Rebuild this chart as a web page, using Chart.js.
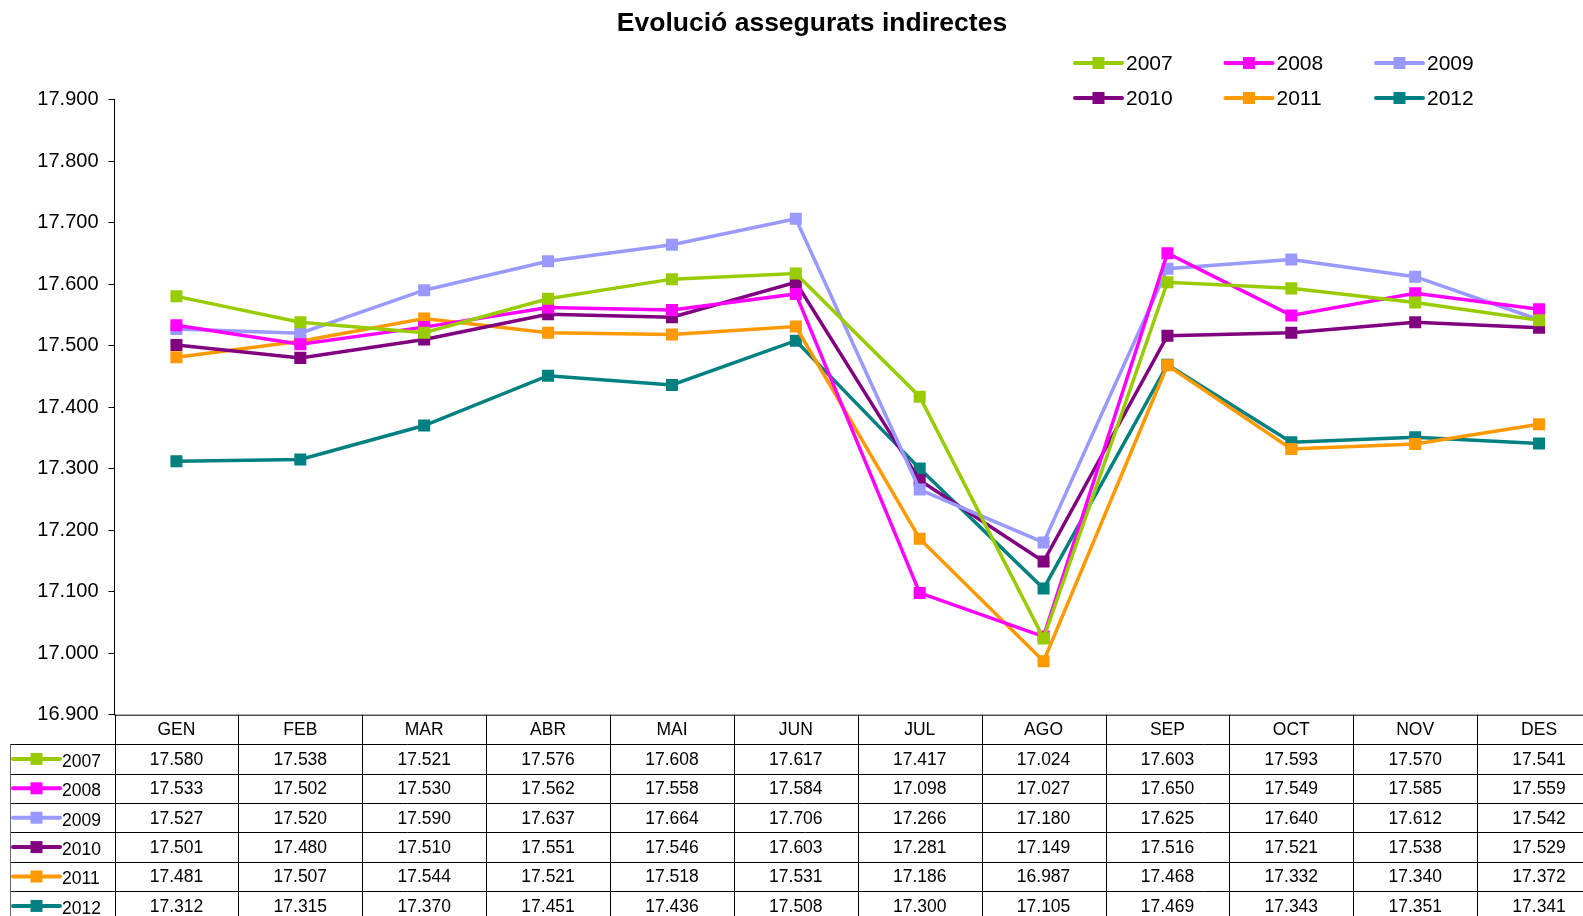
<!DOCTYPE html>
<html>
<head>
<meta charset="utf-8">
<title>Evolució assegurats indirectes</title>
<script src="https://cdn.jsdelivr.net/npm/chart.js@4"></script>
<style>
  html, body { margin: 0; padding: 0; background: #fff; overflow: hidden; }
  #wrap { width: 1583px; height: 916px; position: relative; overflow: hidden; }
  #assegChart { display: block; }
</style>
</head>
<body>
<div id="wrap"><canvas id="assegChart" width="1620" height="916"></canvas></div>
<script>
// dades
const months = ["GEN", "FEB", "MAR", "ABR", "MAI", "JUN", "JUL", "AGO", "SEP", "OCT", "NOV", "DES"];
const years = ["2007", "2008", "2009", "2010", "2011", "2012"];
const colors = ["#99CC00", "#FF00FF", "#9999FF", "#800080", "#FF9900", "#008080"];

const s2007 = [17580, 17538, 17521, 17576, 17608, 17617, 17417, 17024, 17603, 17593, 17570, 17541];
const s2008 = [17533, 17502, 17530, 17562, 17558, 17584, 17098, 17027, 17650, 17549, 17585, 17559];
const s2009 = [17527, 17520, 17590, 17637, 17664, 17706, 17266, 17180, 17625, 17640, 17612, 17542];
const s2010 = [17501, 17480, 17510, 17551, 17546, 17603, 17281, 17149, 17516, 17521, 17538, 17529];
const s2011 = [17481, 17507, 17544, 17521, 17518, 17531, 17186, 16987, 17468, 17332, 17340, 17372];
const s2012 = [17312, 17315, 17370, 17451, 17436, 17508, 17300, 17105, 17469, 17343, 17351, 17341];
const series = [s2007, s2008, s2009, s2010, s2011, s2012];

const yMin = 16900;
const yMax = 17900;
const yStep = 100;

const FONT = "'Liberation Sans', Arial, sans-serif";

// 17900 -> "17.900"
function fmt(v) {
  return String(Math.round(v)).replace(/\B(?=(\d{3})+(?!\d))/g, ".");
}

function drawSample(ctx, x1, x2, y, color) {
  ctx.save();
  ctx.strokeStyle = color;
  ctx.lineWidth = 4;
  ctx.lineCap = "round";
  ctx.beginPath();
  ctx.moveTo(x1, y);
  ctx.lineTo(x2, y);
  ctx.stroke();
  ctx.fillStyle = color;
  const mx = (x1 + x2) / 2;
  ctx.fillRect(mx - 6, y - 6, 12, 12);
  ctx.restore();
}

// titol, llegenda i taula de dades
const extrasPlugin = {
  id: "extras",
  afterDraw(chart) {
    const ctx = chart.ctx;
    const area = chart.chartArea;
    ctx.save();

    // titol
    ctx.fillStyle = "#000";
    ctx.font = "bold 26.5px " + FONT;
    ctx.textAlign = "center";
    ctx.textBaseline = "middle";
    ctx.fillText("Evolució assegurats indirectes", 812, 24);

    // llegenda (2 files x 3 columnes)
    ctx.font = "21px " + FONT;
    ctx.textAlign = "left";
    years.forEach((yr, i) => {
      const col = i % 3, row = Math.floor(i / 3);
      const x = 1075 + col * 150.5;
      const y = 63 + row * 35;
      drawSample(ctx, x, x + 47, y, colors[i]);
      ctx.fillStyle = "#000";
      ctx.fillText(yr, x + 51, y + 1);
    });

    // taula
    const top = area.bottom;
    const left = area.left;
    const right = area.right;
    const colW = (right - left) / months.length;
    const headH = 29.5;
    const rowH = 29.4;
    const legLeft = 10;
    const bottom = top + headH + rowH * years.length;

    ctx.lineWidth = 1;
    ctx.strokeStyle = "#000";
    ctx.beginPath();
    ctx.moveTo(left, top + 0.5);
    ctx.lineTo(right, top + 0.5);
    for (let r = 0; r <= years.length; r++) {
      const y = Math.round(top + headH + r * rowH) + 0.5;
      ctx.moveTo(legLeft, y);
      ctx.lineTo(right, y);
    }
    for (let c = 0; c <= months.length; c++) {
      const x = Math.round(left + c * colW) + 0.5;
      ctx.moveTo(x, top);
      ctx.lineTo(x, bottom);
    }
    ctx.stroke();
    ctx.strokeStyle = "#666";
    ctx.beginPath();
    ctx.moveTo(legLeft + 0.5, top + headH);
    ctx.lineTo(legLeft + 0.5, bottom);
    ctx.stroke();

    ctx.fillStyle = "#000";
    ctx.font = "17.5px " + FONT;
    ctx.textAlign = "center";
    ctx.textBaseline = "middle";
    months.forEach((m, c) => {
      ctx.fillText(m, left + (c + 0.5) * colW, top + headH / 2 + 1);
    });
    series.forEach((vals, r) => {
      const cy = top + headH + (r + 0.5) * rowH;
      vals.forEach((v, c) => {
        ctx.fillText(fmt(v), left + (c + 0.5) * colW, cy + 1);
      });
    });

    // mostres de la llegenda a la taula
    ctx.textAlign = "left";
    series.forEach((vals, r) => {
      const cy = top + headH + (r + 0.5) * rowH;
      drawSample(ctx, 13, 60, cy, colors[r]);
      ctx.fillStyle = "#000";
      ctx.fillText(years[r], 62, cy + 3);
    });

    ctx.restore();
  }
};

const ctx1 = document.getElementById("assegChart").getContext("2d");
const assegChart = new Chart(ctx1, {
  type: "line",
  data: {
    labels: months,
    datasets: years.map((yr, i) => ({
      label: yr,
      data: series[i],
      borderColor: colors[i],
      backgroundColor: colors[i],
      borderWidth: 3.5,
      pointStyle: "rect",
      pointRadius: 8.5,
      pointBorderWidth: 0,
      pointBackgroundColor: colors[i],
      tension: 0,
      fill: false,
    })),
  },
  options: {
    responsive: false,
    maintainAspectRatio: false,
    animation: false,
    layout: { padding: { top: 99.5, bottom: 201.3, left: 0, right: 19 } },
    plugins: {
      legend: { display: false },
      title: { display: false },
      tooltip: { enabled: false },
    },
    scales: {
      x: {
        display: false,
        offset: true,
      },
      y: {
        min: yMin,
        max: yMax,
        ticks: {
          stepSize: yStep,
          color: "#000",
          padding: 10,
          font: { family: FONT, size: 20 },
          callback: (v) => fmt(v),
        },
        grid: {
          drawOnChartArea: false,
          tickLength: 6,
          color: "#000",
        },
        border: { display: true, color: "#000", width: 1 },
        afterFit(scale) {
          scale.width = 114.5;
        },
      },
    },
  },
  plugins: [extrasPlugin],
});
</script>
</body>
</html>
